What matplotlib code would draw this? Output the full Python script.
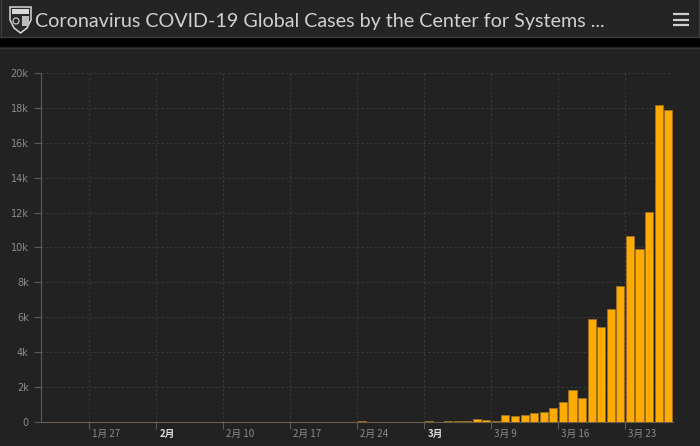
import matplotlib.pyplot as plt
from matplotlib.patches import Rectangle, Polygon
from matplotlib.transforms import blended_transform_factory

# daily new cases, Jan 22 .. Mar 27 (66 days)
jan_vals = [1, 0, 1, 0, 3, 0, 0, 0, 0, 1]
feb_vals = [1, 2, 1, 0, 1, 0, 0, 0, 0, 1, 0, 0, 1, 0, 0, 0, 0, 0, 0, 0,
            0, 0, 0, 40, 0, 5, 1, 2, 8]
mar_vals = [6, 50, 20, 60, 60, 75, 160, 120, 60, 420, 330, 400, 530, 570,
            790, 1170, 1840, 1400, 5920, 5460, 6460, 7800, 10640, 9920,
            12060, 18140, 17900]
values = jan_vals + feb_vals + mar_vals

# weekly grid: day index of the line and its label
tick_days = [5, 12, 19, 26, 33, 40, 47, 54, 61]
tick_labels = ['1月 27', '2月', '2月 10', '2月 17', '2月 24', '3月', '3月 9', '3月 16', '3月 23']
tick_bold = [False, True, False, False, False, True, False, False, False]

y_ticks = [0, 2000, 4000, 6000, 8000, 10000, 12000, 14000, 16000, 18000, 20000]
y_labels = ['0', '2k', '4k', '6k', '8k', '10k', '12k', '14k', '16k', '18k', '20k']

title = 'Coronavirus COVID-19 Global Cases by the Center for Systems ...'

cjk = ['Noto Sans CJK JP', 'DejaVu Sans']

W, H = 700, 446
fig = plt.figure(figsize=(7, 4.46), dpi=100)
fig.patch.set_facecolor('#000000')

# background / header drawn in pixel coordinates
bg = fig.add_axes([0, 0, 1, 1])
bg.set_xlim(0, W)
bg.set_ylim(H, 0)
bg.axis('off')
bg.add_patch(Rectangle((0, 0), W, 37, facecolor='#242424', edgecolor='none'))
bg.plot([0, W], [36.5, 36.5], color='#3c3c3c', lw=1)
bg.add_patch(Rectangle((0, 47), W, H - 47, facecolor='#222222', edgecolor='none'))
bg.plot([0, W], [47.5, 47.5], color='#343434', lw=1)
bg.plot([1, 1], [0, 37], color='#3c3c3c', lw=1)
bg.plot([W - 1, W - 1], [0, 37], color='#3c3c3c', lw=1)

# shield logo
shield = Polygon([(10, 7), (31, 7), (31, 20), (27, 28), (20.5, 33), (14, 28), (10, 20)],
                 closed=True, facecolor='#2a2a2a', edgecolor='#d8d8d8', lw=1.1)
bg.add_patch(shield)
bg.add_patch(Rectangle((12, 9), 17, 4.5, facecolor='#d8d8d8', edgecolor='none'))
bg.add_patch(Rectangle((22, 16), 7, 10, facecolor='#bbbbbb', edgecolor='none'))
bg.add_patch(plt.Circle((16, 21), 3.0, facecolor='none', edgecolor='#d8d8d8', lw=0.8))

bg.text(35, 27, title, color='#d0d0d0', fontsize=14.2, family=['Lato', 'DejaVu Sans'],
        va='baseline', ha='left')

# menu icon
for yy in [14, 19.5, 25]:
    bg.plot([673, 689], [yy, yy], color='#cfcfcf', lw=1.6, solid_capstyle='butt')

# chart axes
x0, x1 = 41.2, 673.0
ytop, ybot = 73.0, 422.0
ax = fig.add_axes([x0 / W, (H - ybot) / H, (x1 - x0) / W, (ybot - ytop) / H])
ax.set_facecolor('none')

days = list(range(len(values)))
ax.bar(days, values, width=0.84, color='#ffaa00', edgecolor='#9a7028', linewidth=0.6, zorder=3)

ax.set_xlim(-0.5, len(values) - 0.5)
ax.set_ylim(0, 20000)

# grid lines
for v in y_ticks[1:]:
    ax.axhline(v, color='#383838', lw=0.8, ls=(0, (2, 2)), zorder=1)
for d in tick_days:
    ax.axvline(d - 0.5, color='#383838', lw=0.8, ls=(0, (2, 2)), zorder=1)

for s in ['top', 'right']:
    ax.spines[s].set_visible(False)
ax.spines['left'].set_color('#5a5a5a')
ax.spines['left'].set_linewidth(0.8)
ax.spines['bottom'].set_color('#6e6048')
ax.spines['bottom'].set_linewidth(0.8)
ax.spines['bottom'].set_zorder(2)

ax.set_yticks(y_ticks)
ax.set_yticklabels(y_labels)
ax.tick_params(axis='y', colors='#5a5a5a', labelcolor='#8c8c8c', labelsize=7,
               length=5, width=0.8, pad=4)

ax.set_xticks([d - 0.5 for d in tick_days])
ax.set_xticklabels([])
ax.tick_params(axis='x', colors='#5a5a5a', length=5, width=0.8)

trans = blended_transform_factory(ax.transData, ax.transAxes)
for d, lab, b in zip(tick_days, tick_labels, tick_bold):
    ax.text(d - 0.5 + 0.35, -0.034, lab, transform=trans, ha='left', va='center',
            fontsize=7, family=cjk, color='#dcdcdc' if b else '#8c8c8c',
            fontweight='bold' if b else 'normal')

fig.savefig('out.png', dpi=100, facecolor=fig.get_facecolor())
